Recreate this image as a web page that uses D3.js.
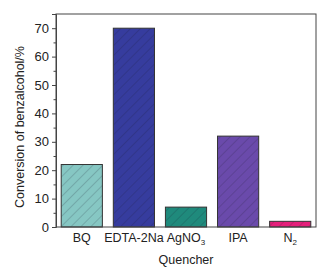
<!DOCTYPE html>
<html><head><meta charset="utf-8">
<script src="https://cdn.jsdelivr.net/npm/d3@7"></script>
<style>body{margin:0;background:#fff}svg{display:block}text{font-family:"Liberation Sans",Arial,sans-serif;fill:#222}</style>
</head><body>
<svg id="c" width="336" height="277"></svg>
<script>
const categories = ["BQ","EDTA-2Na","AgNO3","IPA","N2"];
const values = [22, 70, 7, 32, 2];
const colors = ["#86c7c3","#363c9e","#1f8a7c","#6a4aab","#e51f7b"];
const yTicks = [0,10,20,30,40,50,60,70];

const svg = d3.select("#c");
const m = {l:56, t:14, r:20, b:50};
const W = 336, H = 277;
const x = d3.scaleBand().domain(categories).range([m.l, W-m.r]).paddingInner(0.21).paddingOuter(0.1);
const y = d3.scaleLinear().domain([0,75]).range([H-m.b, m.t]);

const defs = svg.append("defs");
colors.forEach((c,i)=>{
  const p = defs.append("pattern").attr("id","h"+i).attr("patternUnits","userSpaceOnUse")
    .attr("width",7).attr("height",7).attr("patternTransform","rotate(45)");
  p.append("rect").attr("width",7).attr("height",7).attr("fill",c);
  p.append("line").attr("x1",0).attr("y1",0).attr("x2",0).attr("y2",7)
    .attr("stroke","#1a1a2a").attr("stroke-opacity",0.45).attr("stroke-width",0.8);
});

svg.selectAll("rect.bar").data(values).join("rect").attr("class","bar")
  .attr("x",(d,i)=>x(categories[i])).attr("width",x.bandwidth())
  .attr("y",d=>y(d)).attr("height",d=>y(0)-y(d))
  .attr("fill",(d,i)=>"url(#h"+i+")").attr("stroke","#333").attr("stroke-width",1);

svg.append("rect").attr("x",m.l).attr("y",m.t).attr("width",W-m.r-m.l).attr("height",H-m.b-m.t)
  .attr("fill","none").attr("stroke","#444").attr("stroke-width",1);

const ya = svg.append("g").attr("transform",`translate(${m.l},0)`)
  .call(d3.axisLeft(y).tickValues(yTicks).tickSize(4).tickPadding(3));
ya.select(".domain").attr("stroke","#444");
ya.selectAll("line").attr("stroke","#444");
ya.selectAll("text").style("font-size","13px").attr("fill","#222");
const ym = svg.append("g").attr("transform",`translate(${m.l},0)`)
  .call(d3.axisLeft(y).tickValues(d3.range(5,75,10)).tickSize(2.5).tickFormat(""));
ym.select(".domain").remove();
ym.selectAll("line").attr("stroke","#444");

const xl = svg.append("g");
categories.forEach((c,i)=>{
  const t = xl.append("text").attr("x",x(c)+x.bandwidth()/2).attr("y",242)
    .attr("text-anchor","middle").style("font-size","12.5px");
  const mm = c.match(/^(.*?)(\d)$/);
  if (mm && (c==="AgNO3"||c==="N2")) {
    t.append("tspan").text(mm[1]);
    t.append("tspan").text(mm[2]).attr("dy",3).style("font-size","8px");
  } else t.text(c);
});

svg.append("text").attr("x",(m.l+W-m.r)/2).attr("y",264).attr("text-anchor","middle")
  .style("font-size","12.5px").text("Quencher");
svg.append("text").attr("transform",`translate(24,127) rotate(-90)`)
  .attr("text-anchor","middle").style("font-size","12.5px").text("Conversion of benzalcohol/%");
</script>
</body></html>
